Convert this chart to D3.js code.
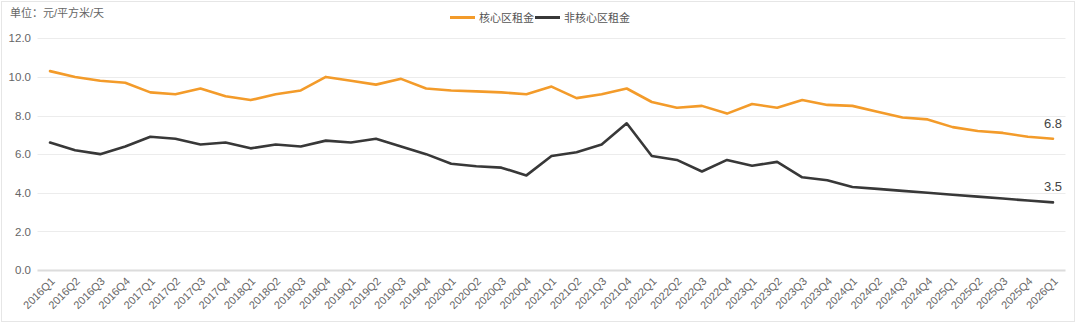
<!DOCTYPE html>
<html>
<head>
<meta charset="utf-8">
<script src="https://cdn.jsdelivr.net/npm/d3@7"></script>
<style>
html,body{margin:0;padding:0;background:#fff;}
svg{display:block;font-family:"Liberation Sans",Arial,"Noto Sans CJK SC",sans-serif;}
</style>
</head>
<body>
<svg id="chart" width="1080" height="325"></svg>
<script>
const categories = ["2016Q1","2016Q2","2016Q3","2016Q4","2017Q1","2017Q2","2017Q3","2017Q4",
"2018Q1","2018Q2","2018Q3","2018Q4","2019Q1","2019Q2","2019Q3","2019Q4",
"2020Q1","2020Q2","2020Q3","2020Q4","2021Q1","2021Q2","2021Q3","2021Q4",
"2022Q1","2022Q2","2022Q3","2022Q4","2023Q1","2023Q2","2023Q3","2023Q4",
"2024Q1","2024Q2","2024Q3","2024Q4","2025Q1","2025Q2","2025Q3","2025Q4","2026Q1"];
const coreRent = [10.3,10.0,9.8,9.7,9.2,9.1,9.4,9.0,
8.8,9.1,9.3,10.0,9.8,9.6,9.9,9.4,
9.3,9.25,9.2,9.1,9.5,8.9,9.1,9.4,
8.7,8.4,8.5,8.1,8.6,8.4,8.8,8.55,
8.5,8.2,7.9,7.8,7.4,7.2,7.1,6.9,6.8];
const nonCoreRent = [6.6,6.2,6.0,6.4,6.9,6.8,6.5,6.6,
6.3,6.5,6.4,6.7,6.6,6.8,6.4,6.0,
5.5,5.37,5.3,4.9,5.9,6.1,6.5,7.6,
5.9,5.7,5.1,5.7,5.4,5.6,4.8,4.65,
4.3,4.2,4.1,4.0,3.9,3.8,3.7,3.6,3.5];
const yTicks = [0,2,4,6,8,10,12];
const seriesNames = ["核心区租金","非核心区租金"];
const seriesColors = ["#F39B2A","#383838"];
const unitLabel = "单位：元/平方米/天";

const svg = d3.select("#chart");
// outer border
svg.append("rect").attr("x",1.5).attr("y",1.5).attr("width",1073).attr("height",320)
  .attr("fill","none").attr("stroke","#e6e6e6").attr("stroke-width",1);

const mLeft = 37.5, mRight = 1065.5, mTop = 38.3, mBottom = 270;
const x = d3.scalePoint().domain(categories).range([mLeft, mRight]).padding(0.5);
const y = d3.scaleLinear().domain([0,12]).range([mBottom, mTop]);

// grid
svg.append("g").selectAll("line").data(yTicks).join("line")
  .attr("x1",mLeft).attr("x2",mRight)
  .attr("y1",d=>Math.round(y(d))+0.5).attr("y2",d=>Math.round(y(d))+0.5)
  .attr("stroke",d=>d===0?"#dcdcdc":"#ececec")
  .attr("stroke-width",d=>d===0?2:1);

// y axis labels
const yAxis = d3.axisLeft(y).tickValues(yTicks).tickFormat(d3.format(".1f")).tickSize(0).tickPadding(0);
const yg = svg.append("g").attr("transform",`translate(31,0)`).call(yAxis);
yg.select(".domain").remove();
yg.selectAll("text").attr("fill","#666").attr("font-size","11.5px");

// x axis labels
const xAxis = d3.axisBottom(x).tickSize(0).tickPadding(0);
const xg = svg.append("g").attr("transform",`translate(0,${mBottom})`).call(xAxis);
xg.select(".domain").remove();
xg.selectAll("text")
  .attr("fill","#666").attr("font-size","11px")
  .attr("text-anchor","end").attr("dy","0")
  .attr("transform","translate(5,12) rotate(-45)");

// lines
const line = d3.line().x((d,i)=>x(categories[i])).y(d=>y(d));
[coreRent, nonCoreRent].forEach((s,k)=>{
  svg.append("path").datum(s).attr("d",line).attr("fill","none")
    .attr("stroke",seriesColors[k]).attr("stroke-width",2.6)
    .attr("stroke-linejoin","round").attr("stroke-linecap","round");
  const last = s.length-1;
  svg.append("text").attr("x",x(categories[last])).attr("y",y(s[last])-11)
    .attr("text-anchor","middle").attr("font-size","13px").attr("fill","#444")
    .text(d3.format(".1f")(s[last]));
});

// unit label
svg.append("text").attr("x",10).attr("y",16.5).attr("font-size","11px").attr("fill","#666").text(unitLabel);

// legend
const legendItems = [{x:450, tx:479},{x:535, tx:564}];
legendItems.forEach((p,k)=>{
  svg.append("line").attr("x1",p.x).attr("x2",p.x+25).attr("y1",17.5).attr("y2",17.5)
    .attr("stroke",seriesColors[k]).attr("stroke-width",3);
  svg.append("text").attr("x",p.tx).attr("y",21.5).attr("font-size","11px").attr("fill","#555")
    .text(seriesNames[k]);
});
</script>
</body>
</html>
